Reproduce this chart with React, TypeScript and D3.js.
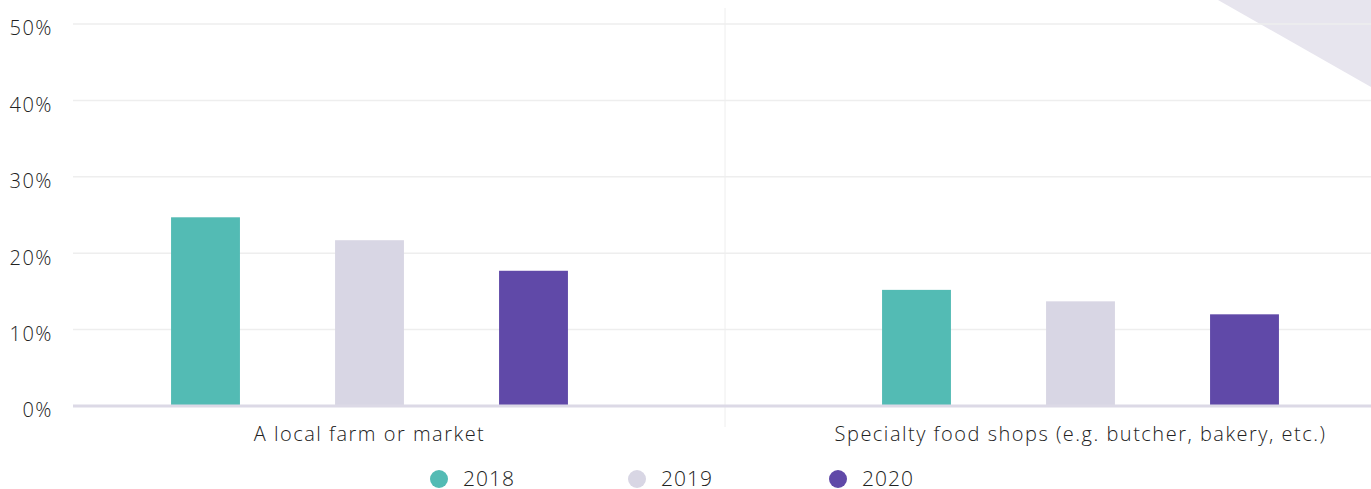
import React, { useEffect, useRef } from "react";
import * as d3 from "d3";

const categories = ["A local farm or market", "Specialty food shops (e.g. butcher, bakery, etc.)"];
const years = ["2018", "2019", "2020"];
const values2018 = [24.7, 15.2];
const values2019 = [21.7, 13.7];
const values2020 = [17.7, 12.0];
const yTicks = [0, 10, 20, 30, 40, 50];
const colors = ["#53bbb4", "#d8d6e4", "#6049a8"];

const App = () => {
  const svgRef = useRef<SVGSVGElement>(null);

  useEffect(() => {
    const width = 1371;
    const height = 489;
    const plotLeft = 73;
    const series = [values2018, values2019, values2020];

    const svg = d3
      .select(svgRef.current)
      .attr("width", width)
      .attr("height", height)
      .style("position", "absolute")
      .style("left", 0)
      .style("top", 0)
      .style("font-family", "'Open Sans', sans-serif");
    svg.selectAll("*").remove();

    const y = d3.scaleLinear().domain([0, 50]).range([406, 24]);
    const x0 = d3.scaleBand().domain(categories).range([14, 1436]);
    const step = 164;

    // background triangle
    svg
      .append("path")
      .attr("d", `M1218,0L${width},0L${width},87Z`)
      .attr("fill", "#e7e5ee");

    // horizontal grid
    svg
      .append("g")
      .selectAll("line")
      .data(yTicks.filter((t) => t > 0))
      .join("line")
      .attr("x1", plotLeft)
      .attr("x2", width)
      .attr("y1", (d) => y(d))
      .attr("y2", (d) => y(d))
      .attr("stroke", "#eeeeee")
      .attr("stroke-width", 1.5);

    // category divider
    svg
      .append("line")
      .attr("x1", x0(categories[1])!)
      .attr("x2", x0(categories[1])!)
      .attr("y1", 8)
      .attr("y2", 427)
      .attr("stroke", "#eeeeee")
      .attr("stroke-width", 1);

    // y labels
    svg
      .append("g")
      .selectAll("text")
      .data(yTicks)
      .join("text")
      .attr("x", 53)
      .attr("y", (d) => y(d) + 6)
      .attr("text-anchor", "end")
      .attr("dominant-baseline", "middle")
      .attr("font-size", 20)
      .attr("font-weight", 300)
      .attr("letter-spacing", "1.5px")
      .attr("fill", "#222")
      .text((d) => `${d}%`);

    // bars
    categories.forEach((cat, ci) => {
      const center = x0(cat)! + x0.bandwidth() / 2;
      const x1 = d3
        .scaleBand()
        .domain(years)
        .range([center - 1.5 * step, center + 1.5 * step])
        .paddingInner(0.58)
        .paddingOuter(0.29);
      const g = svg.append("g");
      g.selectAll("rect")
        .data(years.map((yr, i) => ({ yr, v: series[i][ci], i })))
        .join("rect")
        .attr("x", (d) => x1(d.yr)!)
        .attr("width", x1.bandwidth())
        .attr("y", (d) => y(d.v))
        .attr("height", (d) => y(0) - y(d.v))
        .attr("fill", (d) => colors[d.i]);

      svg
        .append("text")
        .attr("x", center)
        .attr("y", 441)
        .attr("text-anchor", "middle")
        .attr("font-size", 20)
        .attr("font-weight", 300)
        .attr("letter-spacing", "1.5px")
        .attr("fill", "#222")
        .text(cat);
    });

    // zero axis line
    svg
      .append("line")
      .attr("x1", plotLeft)
      .attr("x2", width)
      .attr("y1", y(0))
      .attr("y2", y(0))
      .attr("stroke", "#dcd9e6")
      .attr("stroke-width", 3);

    // legend
    const legendX = [439, 637, 838];
    const legend = svg
      .append("g")
      .selectAll("g")
      .data(years)
      .join("g")
      .attr("transform", (d, i) => `translate(${legendX[i]},479)`);
    legend
      .append("circle")
      .attr("r", 9)
      .attr("fill", (d, i) => colors[i]);
    legend
      .append("text")
      .attr("x", 24)
      .attr("dy", "0.35em")
      .attr("font-size", 21)
      .attr("font-weight", 300)
      .attr("letter-spacing", "1px")
      .attr("fill", "#222")
      .text((d) => d);
  }, []);

  return <svg ref={svgRef}></svg>;
};

export default App;
